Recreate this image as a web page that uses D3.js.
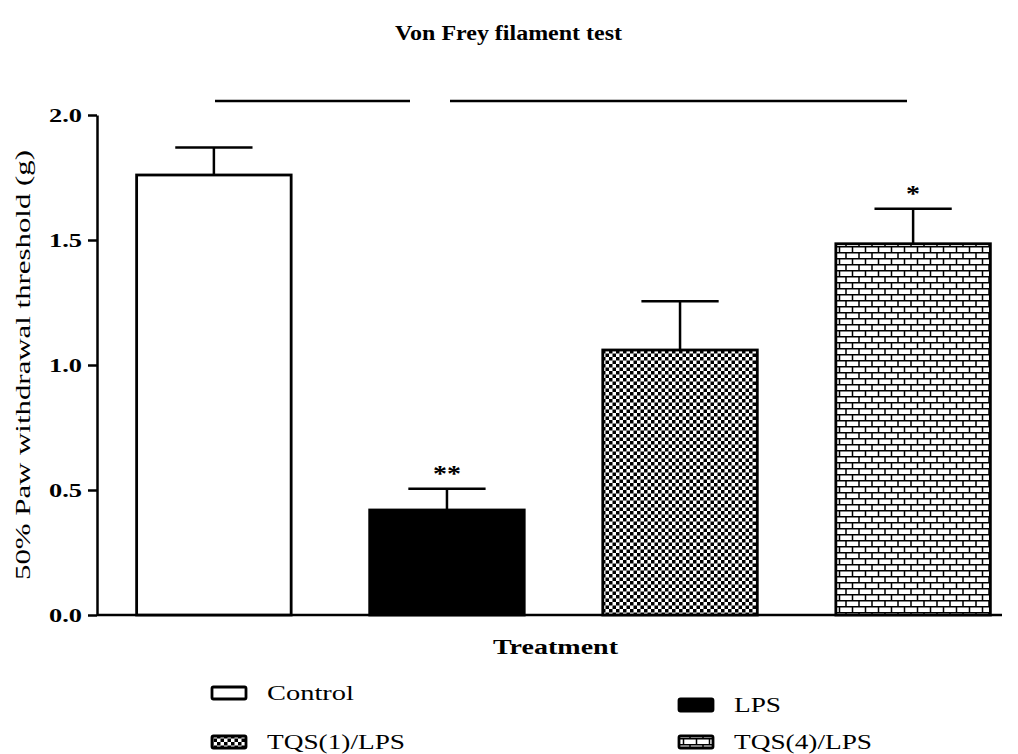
<!DOCTYPE html>
<html><head><meta charset="utf-8">
<script src="https://cdn.jsdelivr.net/npm/d3@7"></script>
<style>body{margin:0;background:#fff}svg{display:block}text{font-family:"Liberation Serif","Times New Roman",serif}</style>
</head><body>
<svg id="c" width="1018" height="754"></svg>
<script>
const categories = ["Control", "LPS", "TQS(1)/LPS", "TQS(4)/LPS"];
const means = [1.76, 0.42, 1.06, 1.485];
const sems = [0.11, 0.085, 0.195, 0.14];
const stars = ["", "**", "", "*"];
const yTicks = [0.0, 0.5, 1.0, 1.5, 2.0];
const fills = ["url(#pWhite)", "url(#pBlack)", "url(#pCheck)", "url(#pBrick)"];

const svg = d3.select("#c");
const defs = svg.append("defs");
const pc = defs.append("pattern").attr("id","pCheck").attr("patternUnits","userSpaceOnUse").attr("width",7).attr("height",7);
pc.append("rect").attr("width",7).attr("height",7).attr("fill","#fff");
pc.append("rect").attr("width",3.5).attr("height",3.5).attr("fill","#000");
pc.append("rect").attr("x",3.5).attr("y",3.5).attr("width",3.5).attr("height",3.5).attr("fill","#000");
const pb = defs.append("pattern").attr("id","pBrick").attr("patternUnits","userSpaceOnUse").attr("width",13).attr("height",12);
pb.append("rect").attr("width",13).attr("height",12).attr("fill","#fff");
pb.append("path").attr("d","M0,0.75H13M0,6.75H13M1,0V6.75M7.5,6.75V12").attr("stroke","#000").attr("stroke-width",1.5).attr("fill","none");
defs.append("pattern").attr("id","pWhite").attr("patternUnits","userSpaceOnUse").attr("width",4).attr("height",4)
  .append("rect").attr("width",4).attr("height",4).attr("fill","#fff");
defs.append("pattern").attr("id","pBlack").attr("patternUnits","userSpaceOnUse").attr("width",4).attr("height",4)
  .append("rect").attr("width",4).attr("height",4).attr("fill","#000");

const x0 = 97, x1 = 1002;
const y = d3.scaleLinear().domain([0, 2]).range([615, 115]);
const x = d3.scaleBand().domain(categories).range([97, 1030]).paddingInner(0.337).paddingOuter(0.17);

function txt(sel, len){ return sel.attr("textLength",len).attr("lengthAdjust","spacingAndGlyphs"); }

// title
txt(svg.append("text").attr("x",508.5).attr("y",40).attr("text-anchor","middle").attr("font-weight","bold").attr("font-size",20).text("Von Frey filament test"),227);

// y axis
const yAxis = d3.axisLeft(y).tickValues(yTicks).tickFormat(d3.format(".1f")).tickSize(9).tickSizeOuter(0);
const gy = svg.append("g").attr("transform",`translate(${x0},0)`).call(yAxis);
gy.select(".domain").attr("stroke","#000").attr("stroke-width",2.5);
gy.selectAll(".tick line").attr("stroke","#000").attr("stroke-width",2.5);
gy.selectAll(".tick text").attr("font-family","Liberation Serif").attr("font-weight","bold").attr("font-size",19).attr("fill","#000").attr("x",-15)
  .attr("textLength",33).attr("lengthAdjust","spacingAndGlyphs");

// x axis line
svg.append("line").attr("x1",x0).attr("x2",x1).attr("y1",y(0)).attr("y2",y(0)).attr("stroke","#000").attr("stroke-width",2.5);

// bars
const bars = svg.append("g");
categories.forEach((c,i)=>{
  const bx = x(c), bw = x.bandwidth();
  const top = y(means[i]), etop = y(means[i]+sems[i]);
  const cx = bx + bw/2;
  bars.append("line").attr("x1",cx).attr("x2",cx).attr("y1",top).attr("y2",etop).attr("stroke","#000").attr("stroke-width",2.5);
  bars.append("line").attr("x1",cx-bw*0.25).attr("x2",cx+bw*0.25).attr("y1",etop).attr("y2",etop).attr("stroke","#000").attr("stroke-width",2.5);
  bars.append("rect").attr("x",bx).attr("y",top).attr("width",bw).attr("height",y(0)-top)
    .attr("fill",fills[i]).attr("stroke","#000").attr("stroke-width",2.8);
  if (stars[i]) txt(bars.append("text").attr("x",cx).attr("y",etop-8).attr("text-anchor","middle").attr("font-size",24).attr("font-weight","bold").text(stars[i]), 14*stars[i].length);
});

// significance lines
svg.append("line").attr("x1",215).attr("x2",410).attr("y1",101).attr("y2",101).attr("stroke","#000").attr("stroke-width",2.5);
svg.append("line").attr("x1",450).attr("x2",907).attr("y1",101).attr("y2",101).attr("stroke","#000").attr("stroke-width",2.5);

// axis labels
txt(svg.append("text").attr("x",555.5).attr("y",654).attr("text-anchor","middle").attr("font-weight","bold").attr("font-size",20).text("Treatment"),125);
txt(svg.append("text").attr("transform","translate(30,365) rotate(-90)").attr("text-anchor","middle").attr("font-size",20).text("50% Paw withdrawal threshold (g)"),430);

// legend
const legPos = [[212,693,87],[679,705,47],[212,742,138],[679,742,138]];
categories.forEach((c,i)=>{
  const [lx,ly,tl] = legPos[i];
  svg.append("rect").attr("x",lx).attr("y",ly-6).attr("width",34).attr("height",12).attr("rx",1.5)
    .attr("fill",fills[i]).attr("stroke","#000").attr("stroke-width",2.8);
  txt(svg.append("text").attr("x",lx+55).attr("y",ly+7).attr("font-size",20).text(c), tl);
});
</script>
</body></html>
